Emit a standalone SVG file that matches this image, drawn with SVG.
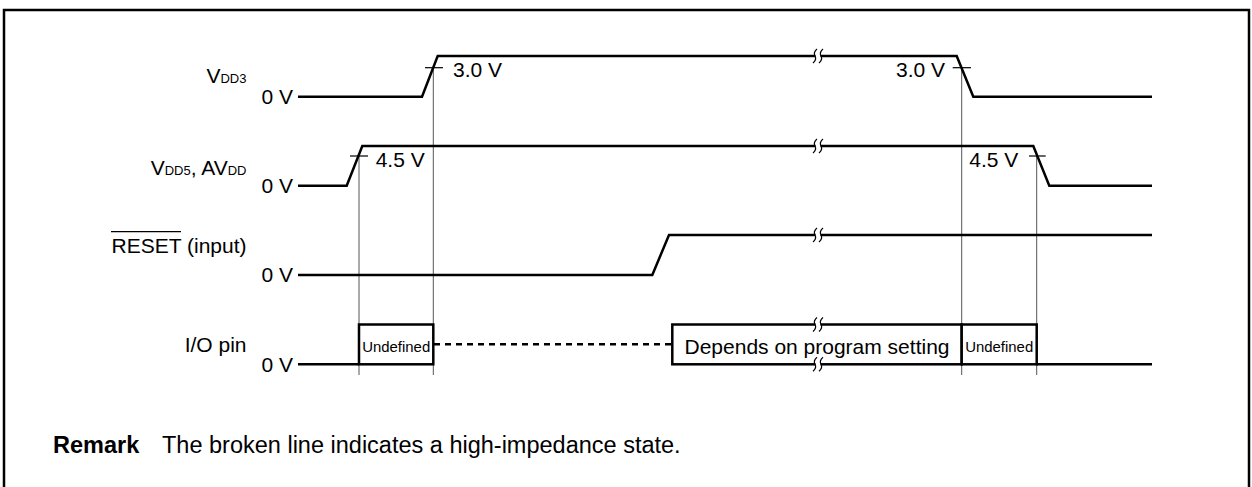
<svg xmlns="http://www.w3.org/2000/svg" width="1252" height="487" viewBox="0 0 1252 487">
<style>
text{font-family:"Liberation Sans",Arial,Helvetica,sans-serif;fill:#000}
.lbl{font-size:21px}
.sub{font-size:13px}
.rem{font-size:23.5px}
.sig{fill:none;stroke:#000;stroke-width:2.5;stroke-linejoin:miter}
.vl{stroke:#555;stroke-width:1;fill:none}
.tick{stroke:#000;stroke-width:1.2;fill:none}
.box{fill:#fff;stroke:#000;stroke-width:2.5}
.brk{fill:none;stroke:#000;stroke-width:1.2}
.gap{fill:#fff;stroke:none}
.und{font-size:15.5px}
</style>
<defs>
<g id="brk">
<rect class="gap" x="-2.5" y="-2.5" width="5" height="5"/>
<path class="brk" d="M-1,-7 Q-5,-3.5 -3,0 Q-1,3.5 -5,7"/>
<path class="brk" d="M5,-7 Q1,-3.5 3,0 Q5,3.5 1,7"/>
</g>
</defs>
<rect x="4" y="10" width="1245" height="490" fill="none" stroke="#000" stroke-width="2.5"/>

<g id="connectors">
<line class="vl" x1="359" y1="156" x2="359" y2="375"/>
<line class="vl" x1="433.3" y1="67.7" x2="433.3" y2="375"/>
<line class="vl" x1="961.7" y1="67.7" x2="961.7" y2="375"/>
<line class="vl" x1="1036.7" y1="156" x2="1036.7" y2="375"/>
</g>

<g id="vdd3">
<text class="lbl" x="246.5" y="82.5" text-anchor="end">V<tspan class="sub">DD3</tspan></text>
<text class="lbl" x="293" y="104" text-anchor="end">0 V</text>
<polyline class="sig" points="298,96.7 422,96.7 437.7,56 956.7,56 973.3,96.7 1152,96.7"/>
<line class="tick" x1="425" y1="67.7" x2="443" y2="67.7"/>
<line class="tick" x1="952.7" y1="67.7" x2="971" y2="67.7"/>
<text class="lbl" x="453" y="76.5">3.0 V</text>
<text class="lbl" x="945" y="76.5" text-anchor="end">3.0 V</text>
<use href="#brk" x="818" y="56"/>
</g>

<g id="vdd5">
<text class="lbl" x="246.5" y="175" text-anchor="end">V<tspan class="sub">DD5</tspan>, AV<tspan class="sub">DD</tspan></text>
<text class="lbl" x="293" y="193" text-anchor="end">0 V</text>
<polyline class="sig" points="298,185.7 346.7,185.7 362.3,146 1033.3,146 1049.3,185.7 1152,185.7"/>
<line class="tick" x1="350" y1="156" x2="368" y2="156"/>
<line class="tick" x1="1029" y1="156" x2="1045.7" y2="156"/>
<text class="lbl" x="375.7" y="166.5">4.5 V</text>
<text class="lbl" x="1018.3" y="166.5" text-anchor="end">4.5 V</text>
<use href="#brk" x="818" y="146"/>
</g>

<g id="reset">
<text class="lbl" x="246.5" y="252.7" text-anchor="end">RESET (input)</text>
<line x1="111" y1="231.7" x2="181" y2="231.7" stroke="#000" stroke-width="1.2"/>
<text class="lbl" x="293" y="282.3" text-anchor="end">0 V</text>
<polyline class="sig" points="298,275 652.3,275 669,235 1152,235"/>
<use href="#brk" x="818" y="235"/>
</g>

<g id="io">
<text class="lbl" x="246.5" y="351.7" text-anchor="end">I/O pin</text>
<text class="lbl" x="293" y="371.7" text-anchor="end">0 V</text>
<line class="sig" x1="298" y1="364.3" x2="359" y2="364.3"/>
<line class="sig" x1="1036.7" y1="364.3" x2="1152" y2="364.3"/>
<line class="sig" x1="434" y1="344.3" x2="672" y2="344.3" stroke-dasharray="6,5"/>
<rect class="box" x="359" y="324.5" width="74.3" height="39.8"/>
<text class="und" x="396.2" y="352" text-anchor="middle" textLength="68" lengthAdjust="spacingAndGlyphs">Undefined</text>
<rect class="box" x="672.3" y="324.5" width="289.4" height="39.8"/>
<text class="lbl" x="817" y="354" text-anchor="middle">Depends on program setting</text>
<rect class="box" x="961.7" y="324.5" width="75" height="39.8"/>
<text class="und" x="999.2" y="352" text-anchor="middle" textLength="68" lengthAdjust="spacingAndGlyphs">Undefined</text>
<use href="#brk" x="818" y="324.5"/>
<use href="#brk" x="818" y="364.3"/>
</g>

<g id="remark">
<text class="rem" x="53" y="453" font-weight="bold">Remark</text>
<text class="rem" x="162" y="453">The broken line indicates a high-impedance state.</text>
</g>
</svg>
